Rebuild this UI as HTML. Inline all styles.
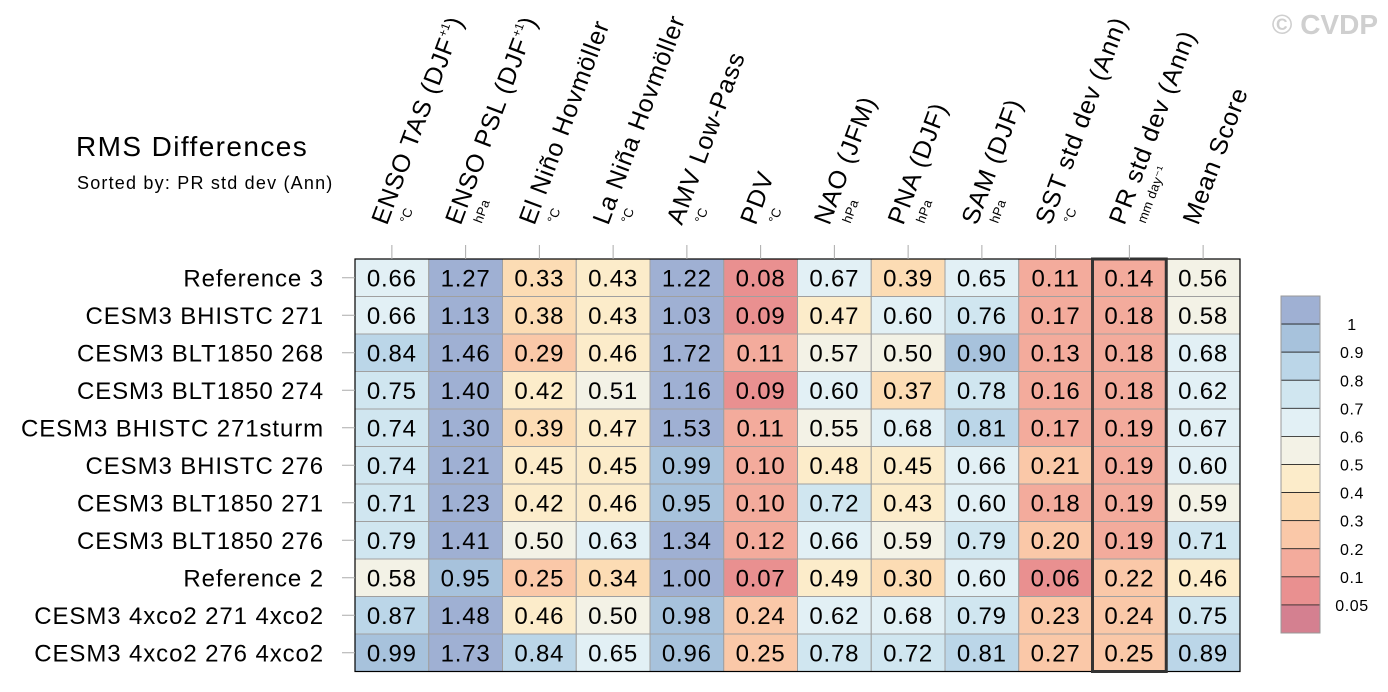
<!DOCTYPE html>
<html><head><meta charset="utf-8"><style>
html,body{margin:0;padding:0;background:#fff;}
svg{display:block;font-family:"Liberation Sans",Arial,sans-serif;}
</style></head><body>
<svg id="chart" width="1388" height="692" viewBox="0 0 1388 692">
<text x="76" y="156" font-size="28" letter-spacing="1.4" fill="#000">RMS Differences</text>
<text x="77" y="189" font-size="18" letter-spacing="1.2" fill="#000">Sorted by: PR std dev (Ann)</text>
<text x="1378" y="34" font-size="28" font-weight="bold" fill="#cfcfcf" text-anchor="end">© CVDP</text>
<g id="cells"></g>
<g id="heads"></g>
<g id="rows"></g>
<g id="cbar"></g>
</svg>
<script>
const columns = ["ENSO TAS (DJF","ENSO PSL (DJF","El Niño Hovmöller","La Niña Hovmöller","AMV Low-Pass","PDV","NAO (JFM)","PNA (DJF)","SAM (DJF)","SST std dev (Ann)","PR std dev (Ann)","Mean Score"];
const units = ["°C","hPa","°C","°C","°C","°C","hPa","hPa","hPa","°C","mm day⁻¹",""];
const rowNames = ["Reference 3","CESM3 BHISTC 271","CESM3 BLT1850 268","CESM3 BLT1850 274","CESM3 BHISTC 271sturm","CESM3 BHISTC 276","CESM3 BLT1850 271","CESM3 BLT1850 276","Reference 2","CESM3 4xco2 271 4xco2","CESM3 4xco2 276 4xco2"];
const values = [
[0.66,1.27,0.33,0.43,1.22,0.08,0.67,0.39,0.65,0.11,0.14,0.56],
[0.66,1.13,0.38,0.43,1.03,0.09,0.47,0.60,0.76,0.17,0.18,0.58],
[0.84,1.46,0.29,0.46,1.72,0.11,0.57,0.50,0.90,0.13,0.18,0.68],
[0.75,1.40,0.42,0.51,1.16,0.09,0.60,0.37,0.78,0.16,0.18,0.62],
[0.74,1.30,0.39,0.47,1.53,0.11,0.55,0.68,0.81,0.17,0.19,0.67],
[0.74,1.21,0.45,0.45,0.99,0.10,0.48,0.45,0.66,0.21,0.19,0.60],
[0.71,1.23,0.42,0.46,0.95,0.10,0.72,0.43,0.60,0.18,0.19,0.59],
[0.79,1.41,0.50,0.63,1.34,0.12,0.66,0.59,0.79,0.20,0.19,0.71],
[0.58,0.95,0.25,0.34,1.00,0.07,0.49,0.30,0.60,0.06,0.22,0.46],
[0.87,1.48,0.46,0.50,0.98,0.24,0.62,0.68,0.79,0.23,0.24,0.75],
[0.99,1.73,0.84,0.65,0.96,0.25,0.78,0.72,0.81,0.27,0.25,0.89]];
const levels = [0.05,0.1,0.2,0.3,0.4,0.5,0.6,0.7,0.8,0.9,1];
const levelLabels = ["0.05","0.1","0.2","0.3","0.4","0.5","0.6","0.7","0.8","0.9","1"];
const palette = ["#d48090","#e99090","#f3ab9c","#fac8a8","#fcdcb4","#fcecca","#f3f2e6","#e2f0f5","#d0e6f0","#bbd6e8","#a7c2dc","#9fb0d3"];
const highlightCol = 10;

const NS="http://www.w3.org/2000/svg";
const X0=355, Y0=259, CW=73.75, RH=37.5;
const colX = i => X0 + i*CW;
const rowY = j => Y0 + j*RH;
function colorFor(v){let k=0;while(k<levels.length && v>=levels[k]-1e-9)k++;return palette[k];}
function mk(tag,attrs,parent,txt){const e=document.createElementNS(NS,tag);for(const k in attrs)e.setAttribute(k,attrs[k]);if(txt!==undefined)e.textContent=txt;parent.appendChild(e);return e;}

const cells=document.getElementById('cells');
values.forEach((row,j)=>row.forEach((v,i)=>{
  const r=mk('rect',{x:colX(i),y:rowY(j),width:CW,height:RH,fill:colorFor(v),stroke:'#a0a0a0','stroke-width':1},cells);
  
  
  const t=mk('text',{x:colX(i)+CW/2,y:rowY(j)+RH/2+8.5,'font-size':24,'letter-spacing':0.8,'text-anchor':'middle',fill:'#000'},cells,v.toFixed(2));
  
  
}));
const border=mk('rect',{x:X0,y:Y0,width:CW*columns.length,height:RH*rowNames.length,fill:'none',stroke:'#000','stroke-width':1.2},cells);


const hl=mk('rect',{x:colX(highlightCol),y:Y0,width:CW,height:RH*rowNames.length,fill:'none',stroke:'#333','stroke-width':3},cells);



const heads=document.getElementById('heads');
const ANG=-69.5;
columns.forEach((c,i)=>{
  const cx=colX(i)+CW/2;
  const tk=mk('line',{x1:cx,y1:245,x2:cx,y2:Y0,stroke:'#aaa','stroke-width':1},heads);
  
  
  const bx=cx-5, by=226;
  const t=mk('text',{x:bx,y:by,'font-size':25,'letter-spacing':0.9,fill:'#000',transform:`rotate(${ANG} ${bx} ${by})`},heads);
  
  
  if(i<2){
    mk('tspan',{},t,c);
    mk('tspan',{'font-size':12,'letter-spacing':0,dy:-11},t,'+1');
    mk('tspan',{dy:11},t,')');
  } else t.textContent=c;
  if(units[i]){
    const ux=cx+16, uy=224;
    const u=mk('text',{x:ux,y:uy,'font-size':13,'letter-spacing':0.3,fill:'#000',transform:`rotate(${ANG} ${ux} ${uy})`},heads,units[i]);
    
    
  }
});

const rows=document.getElementById('rows');
rowNames.forEach((n,j)=>{
  const cy=rowY(j)+RH/2;
  const tk=mk('line',{x1:342,y1:cy,x2:X0,y2:cy,stroke:'#aaa','stroke-width':1},rows);
  
  
  const t=mk('text',{x:324,y:cy+8.5,'font-size':24,'letter-spacing':0.9,'text-anchor':'end',fill:'#000'},rows,n);
  
  
});

const cbar=document.getElementById('cbar');
const CBX=1281, CBY=296, CBW=39, CBH=(633-296)/palette.length;
palette.slice().reverse().forEach((col,k)=>{
  const r=mk('rect',{x:CBX,y:CBY+k*CBH,width:CBW,height:CBH,fill:col,stroke:'#222','stroke-width':0.8},cbar);
  
  
});
const fr=mk('rect',{x:CBX,y:CBY,width:CBW,height:CBH*palette.length,fill:'none',stroke:'#999','stroke-width':1},cbar);


levelLabels.slice().reverse().forEach((l,k)=>{
  const t=mk('text',{x:1352,y:CBY+(k+1)*CBH+6,'font-size':16,'letter-spacing':0.6,'text-anchor':'middle',fill:'#000'},cbar,l);
  
  
});
</script>
</body></html>
